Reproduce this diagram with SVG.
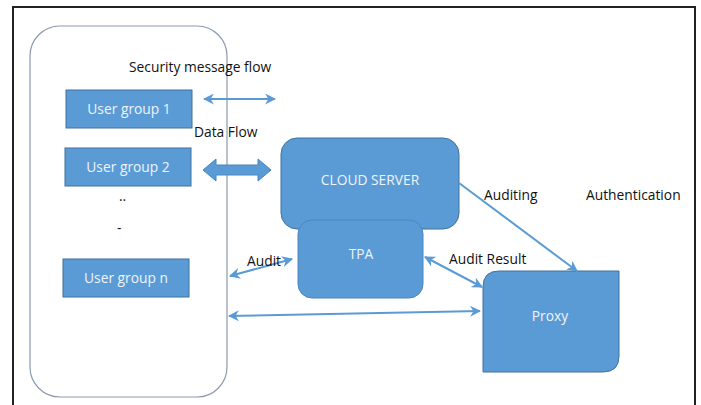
<svg xmlns="http://www.w3.org/2000/svg" width="701" height="405" viewBox="0 0 701 405">
  <style>
    .box { fill: #5b9bd5; stroke: #41719c; stroke-width: 1; }
    .boxtext { font-family: "Open Sans", "Liberation Sans", sans-serif; font-size: 13.8px; fill: #eef3fa; text-anchor: middle; }
    .label { font-family: "Open Sans", "Liberation Sans", sans-serif; font-size: 13.8px; fill: #111; }
    .link { stroke: #5b9bd5; stroke-width: 2; fill: none; }
  </style>
  <defs>
    <marker id="head" viewBox="0 0 10 10" refX="9" refY="5" markerWidth="5.5" markerHeight="5.5" orient="auto-start-reverse" markerUnits="strokeWidth">
      <path d="M0,0 L10,5 L0,10 L3,5 Z" fill="#5b9bd5"/>
    </marker>
  </defs>

  <rect width="701" height="405" fill="#ffffff"/>
  <!-- page frame -->
  <path d="M13,420 V7 H695 V420" fill="none" stroke="#222" stroke-width="2"/>

  <!-- user container -->
  <g id="users">
    <rect x="30" y="26" width="197" height="371" rx="30" ry="30" fill="#ffffff" stroke="#8a9bb0" stroke-width="1.2"/>
    <text class="label" x="119" y="201">..</text>
    <text class="label" x="117" y="233">-</text>
  </g>

  <g id="user-group-1">
    <rect class="box" x="66" y="90" width="126" height="38"/>
    <text class="boxtext" x="129" y="114">User group 1</text>
  </g>
  <g id="user-group-2">
    <rect class="box" x="65" y="148" width="126" height="38"/>
    <text class="boxtext" x="128" y="172">User group 2</text>
  </g>
  <g id="user-group-n">
    <rect class="box" x="63" y="259" width="126" height="38"/>
    <text class="boxtext" x="126" y="283">User group n</text>
  </g>

  <g id="cloud-server">
    <rect class="box" x="281" y="138" width="178" height="91" rx="16" ry="16"/>
    <text class="boxtext" x="370" y="185">CLOUD SERVER</text>
  </g>
  <g id="tpa">
    <rect x="298" y="220" width="125" height="78" rx="14" ry="14" fill="#5b9bd5" stroke="#4a86c0" stroke-width="1"/>
    <text class="boxtext" x="361" y="259">TPA</text>
  </g>
  <g id="proxy">
    <path class="box" d="M499,271 H619 V356 Q619,372 603,372 H483 V287 Q483,271 499,271 Z"/>
    <text class="boxtext" x="550" y="321">Proxy</text>
  </g>

  <g id="connectors">
    <!-- security message flow -->
    <line class="link" x1="204" y1="99" x2="275" y2="99" marker-start="url(#head)" marker-end="url(#head)"/>
    <!-- data flow (block arrow) -->
    <path d="M203,170 L216,159 L216,165 L258,165 L258,159 L271,170 L258,181 L258,175 L216,175 L216,181 Z" fill="#5b9bd5" stroke="#4a86c0" stroke-width="1"/>
    <!-- auditing -->
    <line class="link" x1="459" y1="183" x2="577" y2="271" marker-end="url(#head)"/>
    <!-- audit -->
    <line class="link" x1="230" y1="276" x2="292" y2="259" marker-start="url(#head)" marker-end="url(#head)"/>
    <!-- audit result -->
    <line class="link" x1="425" y1="257" x2="482" y2="287" marker-start="url(#head)" marker-end="url(#head)"/>
    <!-- users to proxy -->
    <line class="link" x1="229" y1="316" x2="480" y2="311" marker-start="url(#head)" marker-end="url(#head)"/>

    <text class="label" x="129" y="72">Security message flow</text>
    <text class="label" x="194" y="137">Data Flow</text>
    <text class="label" x="484" y="200">Auditing</text>
    <text class="label" x="586" y="200">Authentication</text>
    <text class="label" x="247" y="266">Audit</text>
    <text class="label" x="449" y="264">Audit Result</text>
  </g>
</svg>
